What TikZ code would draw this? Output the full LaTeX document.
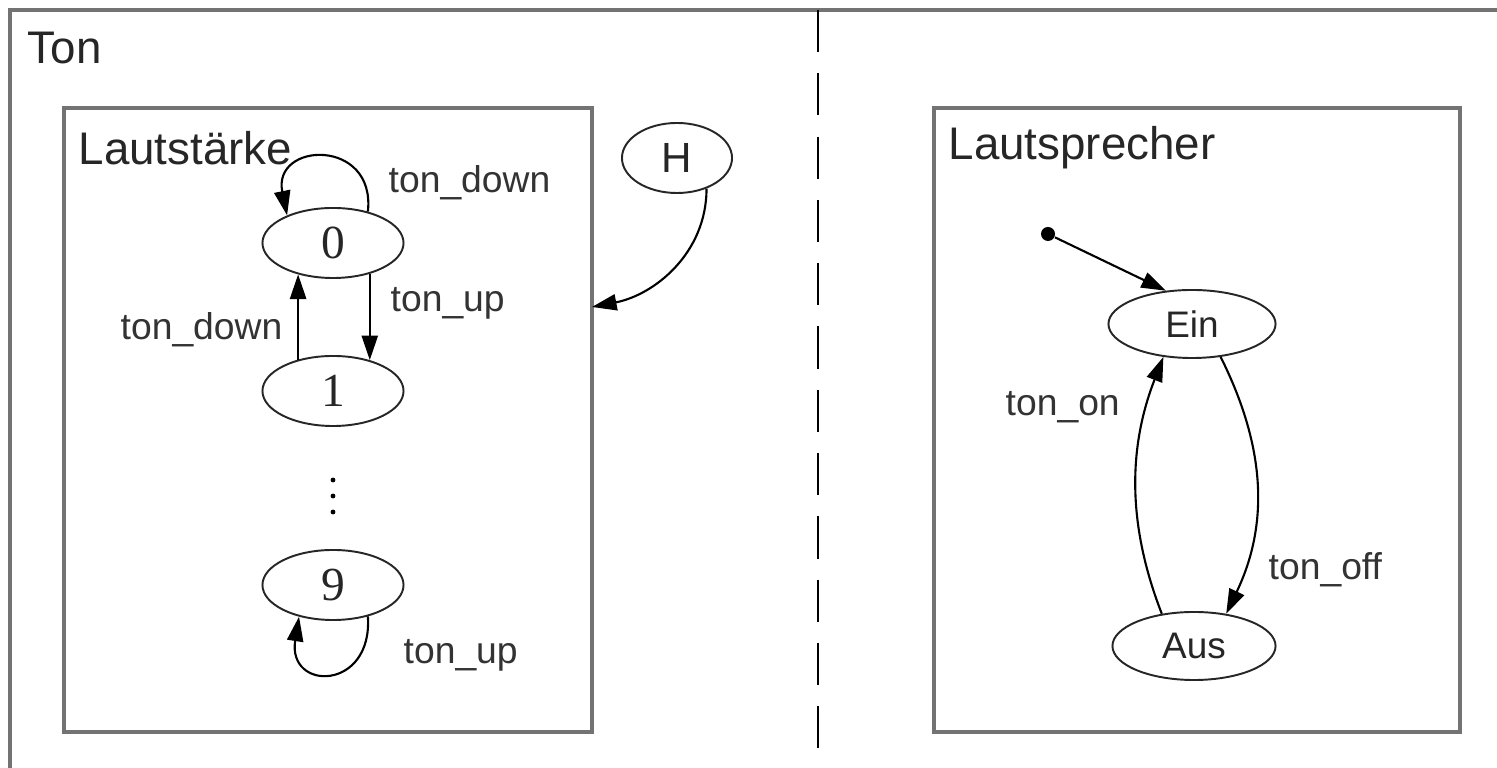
\documentclass[tikz,border=0pt]{standalone}
\usepackage{fontspec}
\setmainfont{Liberation Sans}
\newfontfamily\zahlfont{Liberation Serif}
\usetikzlibrary{arrows.meta,shapes.geometric}

\tikzset{
  zustand/.style={ellipse, draw=black!85, line width=0.55pt, inner sep=0pt,
    minimum width=1.41cm, minimum height=0.70cm, text=black!85,
    font=\fontsize{10.5}{12}\selectfont},
  zahl/.style={zustand, font=\zahlfont\fontsize{13.5}{15}\selectfont},
  rahmen/.style={draw=black!55, line width=1.1pt},
  titel/.style={anchor=west, inner sep=0pt, text=black!85, font=\fontsize{13}{15}\selectfont},
  beschr/.style={anchor=west, inner sep=0pt, text=black!80, font=\fontsize{10.6}{13}\selectfont},
  pfeil/.style={draw, line width=0.6pt, -{Triangle[length=7pt,width=4.6pt]}},
}

\begin{document}
\begin{tikzpicture}[x=0.01cm, y=-0.01cm]
\useasboundingbox (0,0) rectangle (1497,768);
\clip (0,0) rectangle (1497,768);

% Oberzustand Ton
\coordinate (cTonA) at (10,10);
\coordinate (cTonB) at (1530,800);
\draw[rahmen] (cTonA) rectangle (cTonB);
\node[titel] (tTon) at (27,48) {Ton};

\coordinate (cTrennO) at (818,10);
\coordinate (cTrennU) at (818,768);
\draw[line width=0.75pt, dash pattern=on 12pt off 6pt] (cTrennO) -- (cTrennU);

% Lautstaerke
\coordinate (cLautA) at (64,108);
\coordinate (cLautB) at (592,732);
\draw[rahmen] (cLautA) rectangle (cLautB);
\node[titel] (tLaut) at (78,148) {Lautstärke};

\node[zahl] (n0) at (333,243) {0};
\node[zahl] (n1) at (333,391) {1};
\node[zahl] (n9) at (333,585) {9};
\foreach \y in {480,496,512}
{
    \fill (333,\y) circle (2.4);
};

\draw[pfeil] (n0.42) .. controls +(8,-74) and +(-15,-74) .. (n0.149);
\draw[pfeil] (n0.-40) -- (n1.40);
\draw[pfeil] (n1.138) -- (n0.-138);
\draw[pfeil] (n9.-42) .. controls +(5,75) and +(-12,75) .. (n9.-137);
\node[beschr] (lRunter0) at (388,183) {ton\_down};
\node[beschr] (lHoch01) at (390,303) {ton\_up};
\node[beschr] (lRunter10) at (120,330) {ton\_down};
\node[beschr] (lHoch9) at (403,655) {ton\_up};

% History
\node[zustand, minimum width=1.10cm, font=\fontsize{12}{14}\selectfont] (nH) at (677,158) {H};
\coordinate (cHZiel) at (592,307);
\draw[pfeil] (nH.-46) .. controls +(0,65) and +(62,-12) .. (cHZiel);

% Lautsprecher
\coordinate (cSprA) at (934,108);
\coordinate (cSprB) at (1460,732);
\draw[rahmen] (cSprA) rectangle (cSprB);
\node[titel] (tSpr) at (948,148) {Lautsprecher};

\node[circle, fill, inner sep=0pt, minimum size=0.14cm] (nStart) at (1048,234) {};
\node[zustand, minimum width=1.67cm, minimum height=0.68cm] (nEin) at (1192,324) {Ein};
\node[zustand, minimum width=1.63cm, minimum height=0.68cm] (nAus) at (1194,646) {Aus};

\draw[pfeil] (nStart) -- (nEin.128);
\draw[pfeil] (nEin.-49) .. controls +(45,90) and +(43,-90) .. (nAus.45);
\draw[pfeil] (nAus.135) .. controls +(-35,-90) and +(-35,90) .. (nEin.-131);
\node[beschr] (lAn) at (1005,407) {ton\_on};
\node[beschr] (lAus) at (1268,570) {ton\_off};

\end{tikzpicture}
\end{document}
